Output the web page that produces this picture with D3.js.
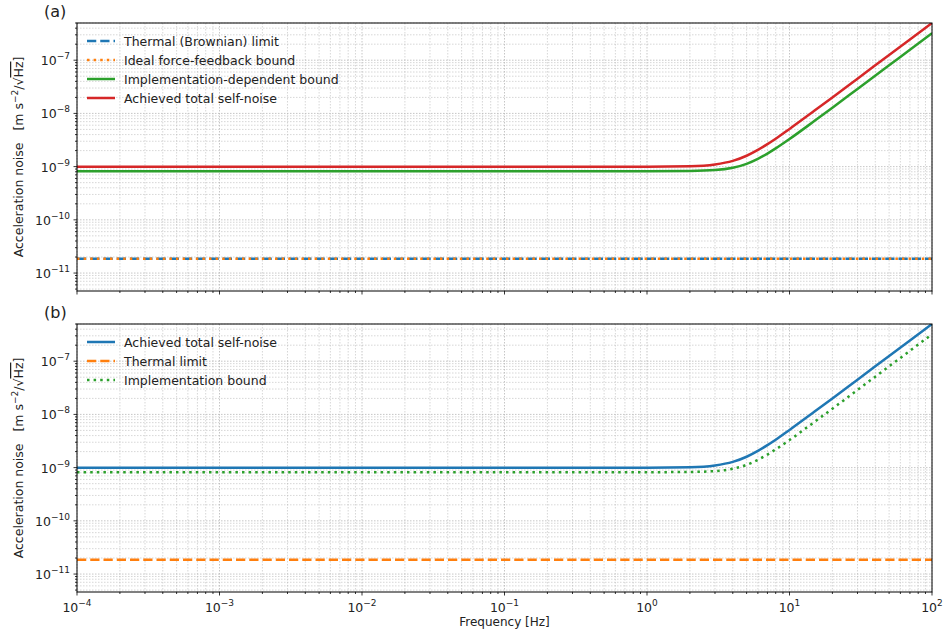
<!DOCTYPE html>
<html>
<head>
<meta charset="utf-8">
<script src="https://cdn.jsdelivr.net/npm/d3@7"></script>
<style>
  body { margin: 0; background: #fff; }
  svg { font-family: "DejaVu Sans", sans-serif; }
</style>
</head>
<body>
<div id="chart"></div>
<script>
const freq = [1e-4, 1e-3, 1e-2, 1e-1, 1, 2, 3, 4, 5, 6, 7, 8, 10, 15, 20, 30, 50, 70, 100];
// achieved total self-noise
const achieved = [1.0e-9, 1.0e-9, 1.0e-9, 1.0e-9, 1.0e-9, 1.02e-9, 1.10e-9, 1.28e-9, 1.60e-9, 2.06e-9,
  2.65e-9, 3.35e-9, 5.1e-9, 1.13e-8, 2.0e-8, 4.5e-8, 1.25e-7, 2.45e-7, 5.0e-7];
// implementation-dependent bound
const implBound = [8.2e-10, 8.2e-10, 8.2e-10, 8.2e-10, 8.2e-10, 8.3e-10, 8.6e-10, 9.5e-10, 1.13e-9, 1.40e-9,
  1.76e-9, 2.2e-9, 3.3e-9, 7.25e-9, 1.28e-8, 2.88e-8, 8.0e-8, 1.57e-7, 3.2e-7];
// thermal (Brownian) limit and ideal force-feedback bound, both flat
const thermal = freq.map(() => 1.85e-11);
const idealFF = freq.map(() => 1.85e-11);

const xTicks = [1e-4, 1e-3, 1e-2, 1e-1, 1, 10, 100];
const yTicks = [1e-11, 1e-10, 1e-9, 1e-8, 1e-7];

const W = 944, H = 634;
const left = 77, right = 932;
const panels = [
  { label: "(a)", top: 23, bottom: 291, showX: false,
    series: [
      { name: "Thermal (Brownian) limit", values: thermal, color: "#1f77b4", dash: "9.25,4" },
      { name: "Ideal force-feedback bound", values: idealFF, color: "#ff7f0e", dash: "2.5,4.1" },
      { name: "Implementation-dependent bound", values: implBound, color: "#2ca02c", dash: null },
      { name: "Achieved total self-noise", values: achieved, color: "#d62728", dash: null }
    ] },
  { label: "(b)", top: 324, bottom: 592, showX: true,
    series: [
      { name: "Achieved total self-noise", values: achieved, color: "#1f77b4", dash: null },
      { name: "Thermal limit", values: thermal, color: "#ff7f0e", dash: "9.25,4" },
      { name: "Implementation bound", values: implBound, color: "#2ca02c", dash: "2.5,4.1" }
    ] }
];

const svg = d3.select("#chart").append("svg")
  .attr("width", W).attr("height", H);

const x = d3.scaleLog().domain([1e-4, 100]).range([left, right]);

function powLabel(sel, v) {
  const e = Math.round(Math.log10(v));
  sel.append("tspan").text("10");
  sel.append("tspan").attr("dy", -6).attr("font-size", 9)
    .text(String(e).replace("-", "\u2212"));
}

// minor tick values for a log range
function minors(lo, hi) {
  const out = [];
  for (let e = Math.floor(Math.log10(lo)); e <= Math.ceil(Math.log10(hi)); e++) {
    for (let m = 2; m <= 9; m++) {
      const v = m * Math.pow(10, e);
      if (v >= lo && v <= hi) out.push(v);
    }
  }
  return out;
}

panels.forEach(p => {
  const y = d3.scaleLog().domain([4.6e-12, 5.0e-7]).range([p.bottom, p.top]);
  const g = svg.append("g");

  g.append("defs").append("clipPath").attr("id", "clip" + p.top)
    .append("rect").attr("x", left).attr("y", p.top)
    .attr("width", right - left).attr("height", p.bottom - p.top);

  // grid, major + minor
  const xMin = minors(1e-4, 100), yMin = minors(4.6e-12, 5e-7);
  const grid = g.append("g").attr("stroke", "#b8b8b8").attr("stroke-width", 0.8)
    .attr("stroke-dasharray", "1.5,1.5");
  grid.selectAll(".vx").data(xTicks.concat(xMin)).join("line")
    .attr("x1", d => x(d)).attr("x2", d => x(d))
    .attr("y1", p.top).attr("y2", p.bottom)
    .attr("stroke-opacity", d => xTicks.includes(d) ? 1 : 0.7);
  grid.selectAll(".hy").data(yTicks.concat(yMin)).join("line")
    .attr("y1", d => y(d)).attr("y2", d => y(d))
    .attr("x1", left).attr("x2", right)
    .attr("stroke-opacity", d => yTicks.includes(d) ? 1 : 0.7);

  // curves
  const line = d3.line().x((d, i) => x(freq[i])).y(d => y(d)).curve(d3.curveMonotoneX);
  const lines = g.append("g").attr("clip-path", "url(#clip" + p.top + ")");
  p.series.forEach(s => {
    lines.append("path").datum(s.values)
      .attr("d", line)
      .attr("fill", "none")
      .attr("stroke", s.color)
      .attr("stroke-width", 2.5)
      .attr("stroke-dasharray", s.dash);
  });

  // frame
  g.append("rect").attr("x", left).attr("y", p.top)
    .attr("width", right - left).attr("height", p.bottom - p.top)
    .attr("fill", "none").attr("stroke", "#000").attr("stroke-width", 1);

  // ticks
  const tk = g.append("g").attr("stroke", "#000").attr("stroke-width", 0.8);
  tk.selectAll(".xmaj").data(xTicks).join("line")
    .attr("x1", d => x(d)).attr("x2", d => x(d)).attr("y1", p.bottom).attr("y2", p.bottom + 3.5);
  tk.selectAll(".xmin").data(xMin).join("line")
    .attr("x1", d => x(d)).attr("x2", d => x(d)).attr("y1", p.bottom).attr("y2", p.bottom + 2);
  tk.selectAll(".ymaj").data(yTicks).join("line")
    .attr("y1", d => y(d)).attr("y2", d => y(d)).attr("x1", left).attr("x2", left - 3.5);
  tk.selectAll(".ymin").data(yMin).join("line")
    .attr("y1", d => y(d)).attr("y2", d => y(d)).attr("x1", left).attr("x2", left - 2);

  // y tick labels
  yTicks.forEach(v => {
    const t = g.append("text").attr("x", left - 7).attr("y", y(v) + 5)
      .attr("text-anchor", "end").attr("font-size", 12.5).attr("fill", "#222");
    powLabel(t, v);
  });

  if (p.showX) {
    xTicks.forEach(v => {
      const t = g.append("text").attr("x", x(v)).attr("y", p.bottom + 20)
        .attr("text-anchor", "middle").attr("font-size", 12.5).attr("fill", "#222");
      powLabel(t, v);
    });
    svg.append("text").attr("x", (left + right) / 2).attr("y", 626)
      .attr("text-anchor", "middle").attr("font-size", 12).attr("fill", "#222")
      .text("Frequency [Hz]");
  }

  // panel label
  svg.append("text").attr("x", 44).attr("y", p.top - 6)
    .attr("font-size", 16).attr("fill", "#222").text(p.label);

  // y axis label
  const cy = (p.top + p.bottom) / 2;
  const yl = svg.append("text").attr("transform", `translate(23,${cy}) rotate(-90)`)
    .attr("text-anchor", "middle").attr("font-size", 12.5).attr("fill", "#222");
  yl.append("tspan").text("Acceleration noise\u00A0\u00A0\u00A0[m s");
  yl.append("tspan").attr("dy", -5).attr("font-size", 9).text("\u22122");
  yl.append("tspan").attr("dy", 5).text("/\u221A");
  yl.append("tspan").attr("text-decoration", "overline").text("Hz");
  yl.append("tspan").text("]");

  // legend
  const lg = g.append("g").attr("transform", `translate(87,${p.top + 18})`);
  p.series.forEach((s, i) => {
    const row = lg.append("g").attr("transform", `translate(0,${i * 19})`);
    row.append("line").attr("x1", 0).attr("x2", 28).attr("y1", 0).attr("y2", 0)
      .attr("stroke", s.color).attr("stroke-width", 2.5)
      .attr("stroke-dasharray", s.dash);
    row.append("text").attr("x", 37).attr("y", 4.5)
      .attr("font-size", 12.5).attr("fill", "#222").text(s.name);
  });
});
</script>
</body>
</html>
